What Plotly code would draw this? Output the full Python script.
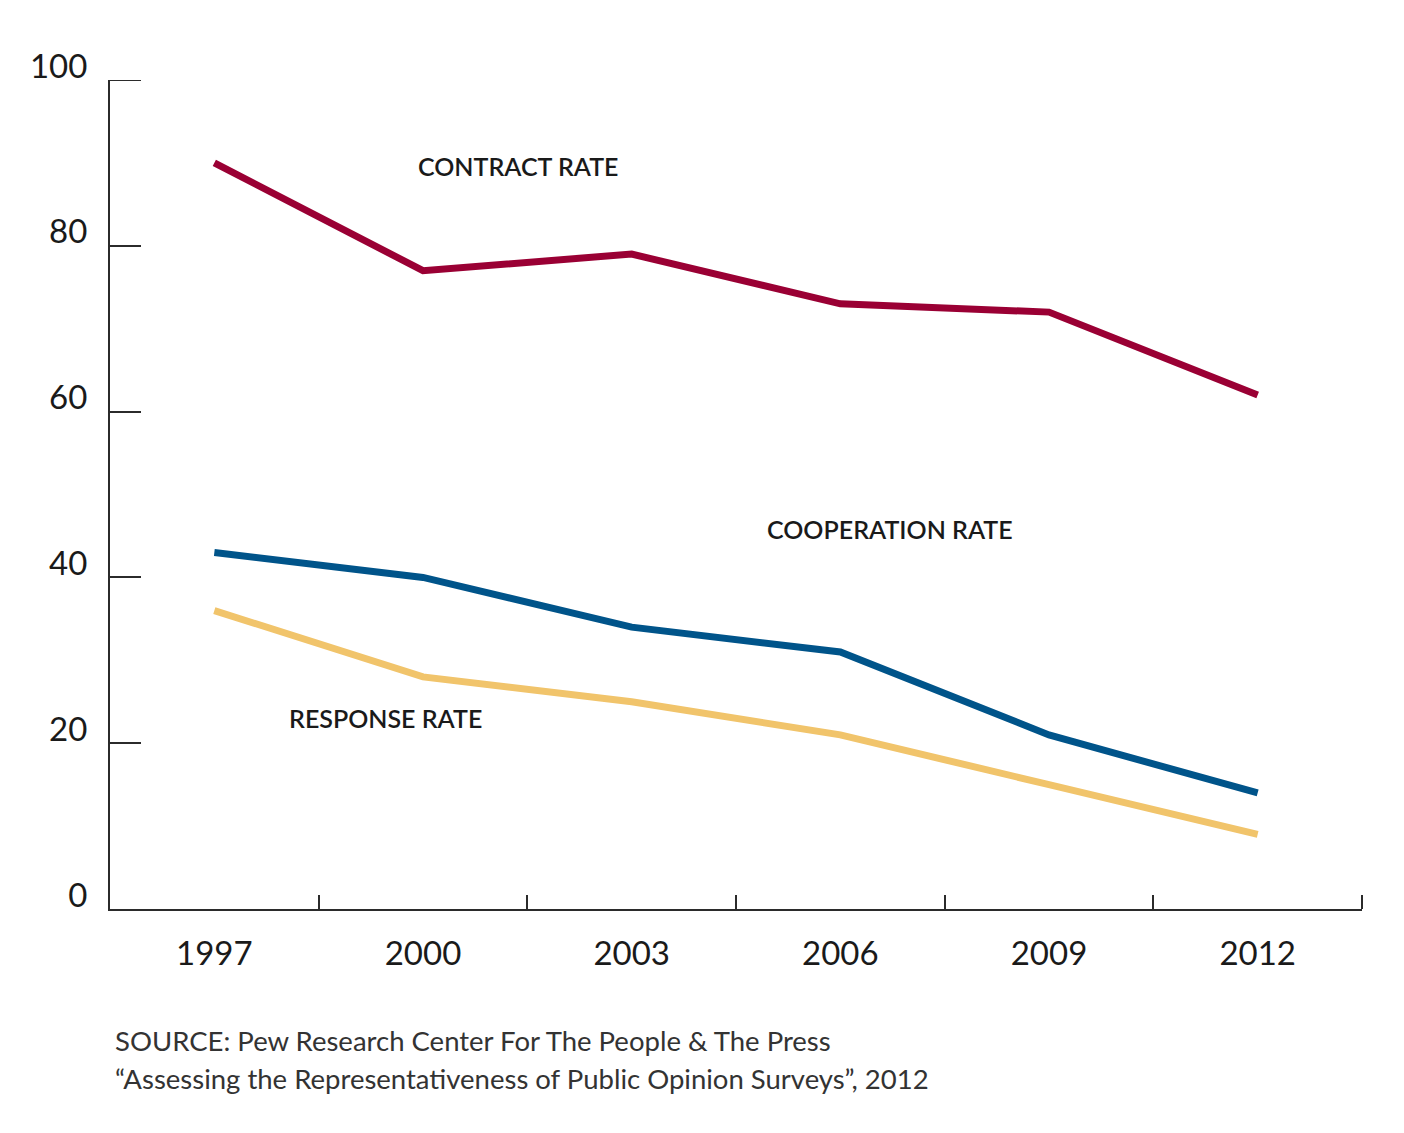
import plotly.graph_objects as go

years = ["1997", "2000", "2003", "2006", "2009", "2012"]
contract_rate = [90, 77, 79, 73, 72, 62]
cooperation_rate = [43, 40, 34, 31, 21, 14]
response_rate = [36, 28, 25, 21, 15, 9]
y_ticks = [0, 20, 40, 60, 80, 100]

xs = list(range(len(years)))
boundaries = [i + 0.5 for i in xs]

AX = "#2b2b2b"
FONT = "Lato"
PLOT_W = 1404 - 102 - 50

fig = go.Figure()
fig.add_trace(go.Scatter(x=xs, y=contract_rate, mode="lines",
                         line=dict(color="#9a0034", width=7), name="Contract rate"))
fig.add_trace(go.Scatter(x=xs, y=cooperation_rate, mode="lines",
                         line=dict(color="#00548a", width=7), name="Cooperation rate"))
fig.add_trace(go.Scatter(x=xs, y=response_rate, mode="lines",
                         line=dict(color="#f1c46b", width=7), name="Response rate"))

label_font = dict(family=FONT, size=25, color="#1a1a1a", weight=600)
fig.add_annotation(x=1.46, y=89.6, text="CONTRACT RATE", showarrow=False, font=label_font)
fig.add_annotation(x=3.24, y=45.8, text="COOPERATION RATE", showarrow=False, font=label_font)
fig.add_annotation(x=0.82, y=23.0, text="RESPONSE RATE", showarrow=False, font=label_font)

src_font = dict(family=FONT, size=27.5, color="#333333")
fig.add_annotation(xref="paper", yref="paper", x=0.002, y=-0.159, xanchor="left", yanchor="middle",
                   text="SOURCE: Pew Research Center For The People &amp; The Press",
                   showarrow=False, font=src_font)
fig.add_annotation(xref="paper", yref="paper", x=0.002, y=-0.204, xanchor="left", yanchor="middle",
                   text="\u201cAssessing the Representativeness of Public Opinion Surveys\u201d, 2012",
                   showarrow=False, font=src_font)

# top tick at the end of the y axis (plotly drops inside ticks at the range edge)
fig.add_shape(type="line", xref="paper", yref="y",
              x0=0, x1=31 / PLOT_W, y0=y_ticks[-1], y1=y_ticks[-1],
              line=dict(color=AX, width=2))

fig.update_layout(
    width=1404, height=1133,
    margin=dict(l=102, r=50, t=72, b=232),
    paper_bgcolor="white", plot_bgcolor="white",
    showlegend=False,
    font=dict(family=FONT, color="#1a1a1a"),
)
fig.update_xaxes(
    range=[-0.5, 5.5], tickmode="array", tickvals=xs, ticktext=years,
    ticks="", showgrid=False, zeroline=False,
    showline=True, linecolor=AX, linewidth=2,
    tickfont=dict(family=FONT, size=33, color="#1a1a1a"),
    ticklabelstandoff=14,
    minor=dict(tickmode="array", tickvals=boundaries, ticks="inside",
               ticklen=14, tickwidth=2, tickcolor=AX, showgrid=False),
)
fig.update_yaxes(
    range=[0, 100], tickmode="array", tickvals=y_ticks,
    ticks="inside", ticklen=31, tickwidth=2, tickcolor=AX,
    showgrid=False, zeroline=False,
    showline=True, linecolor=AX, linewidth=2,
    tickfont=dict(family=FONT, size=33, color="#1a1a1a"),
    ticklabelstandoff=14, ticklabelshift=-14,
)

fig.write_html("out.html")
